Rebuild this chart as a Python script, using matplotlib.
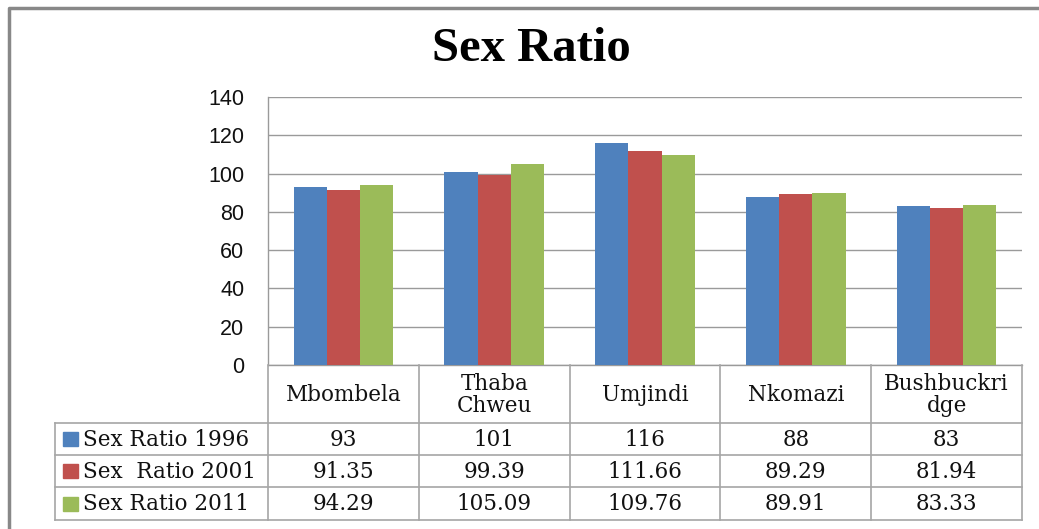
import numpy as np
import matplotlib
matplotlib.use('Agg')
from matplotlib import pyplot as plt
from matplotlib.patches import Rectangle

#%% Data
categories = ['Mbombela', 'Thaba\nChweu', 'Umjindi', 'Nkomazi', 'Bushbuckri\ndge']
series_names = ['Sex Ratio 1996', 'Sex  Ratio 2001', 'Sex Ratio 2011']
ratio_1996 = [93, 101, 116, 88, 83]
ratio_2001 = [91.35, 99.39, 111.66, 89.29, 81.94]
ratio_2011 = [94.29, 105.09, 109.76, 89.91, 83.33]
labels_1996 = ['93', '101', '116', '88', '83']
labels_2001 = ['91.35', '99.39', '111.66', '89.29', '81.94']
labels_2011 = ['94.29', '105.09', '109.76', '89.91', '83.33']
colors = ['#4F81BD', '#C0504D', '#9BBB59']

#%% Figure
W, H = 1039, 529
fig = plt.figure(figsize=(W / 100, H / 100), dpi=100)
fig.patch.set_facecolor('white')

# plot area in pixels
px_left, px_right, px_top, px_bottom = 268, 1022, 97, 365
ax = fig.add_axes([px_left / W, 1 - px_bottom / H,
                   (px_right - px_left) / W, (px_bottom - px_top) / H])

x = np.arange(len(categories))
bw = 0.22
for i, vals in enumerate([ratio_1996, ratio_2001, ratio_2011]):
    ax.bar(x + (i - 1) * bw, vals, width=bw, color=colors[i], zorder=3)

ax.set_xlim(-0.5, len(categories) - 0.5)
ax.set_ylim(0, 140)
ax.set_yticks(np.arange(0, 141, 20))
ax.set_xticks([])
ax.yaxis.grid(True, color='#9a9a9a', linewidth=1.0, zorder=0)
for s in ['top', 'right']:
    ax.spines[s].set_visible(False)
for s in ['left', 'bottom']:
    ax.spines[s].set_color('#9a9a9a')
    ax.spines[s].set_linewidth(1.0)
ax.tick_params(axis='y', length=0, pad=17, labelsize=15.5, colors='#111111')
for lab in ax.get_yticklabels():
    lab.set_family('Liberation Sans')

#%% Title
fig.text(531 / W, 1 - 49 / H, 'Sex Ratio', ha='center', va='center',
         fontsize=35, fontweight='bold', family='Liberation Serif')

#%% Table (overlay in pixel coords)
ov = fig.add_axes([0, 0, 1, 1], facecolor='none')
ov.set_xlim(0, W)
ov.set_ylim(H, 0)
ov.axis('off')

lc = '#a6a6a6'
lw = 1.2
col_x = np.linspace(px_left, px_right, len(categories) + 1)
row_y = [365, 423, 455, 487, 520]
tab_left = 55

# frame
ov.plot([8.5, 8.5, W + 5], [H + 5, 7.5, 7.5], color='#888888', lw=2.5)

# horizontal lines
for yy in row_y[1:]:
    ov.plot([tab_left, px_right], [yy, yy], color=lc, lw=lw)
# vertical lines
for xx in col_x:
    ov.plot([xx, xx], [row_y[0], row_y[-1]], color=lc, lw=lw)
ov.plot([tab_left, tab_left], [row_y[1], row_y[-1]], color=lc, lw=lw)

tfont = dict(family='DejaVu Serif', fontsize=15.5, color='#111111')
centers = (col_x[:-1] + col_x[1:]) / 2
for c, name in zip(centers, categories):
    ov.text(c, (row_y[0] + row_y[1]) / 2 + 1, name, ha='center', va='center',
            linespacing=1.0, **tfont)

rows = [labels_1996, labels_2001, labels_2011]
for r, labs in enumerate(rows):
    yc = (row_y[r + 1] + row_y[r + 2]) / 2
    ov.add_patch(Rectangle((63, yc - 7), 15, 14, color=colors[r]))
    ov.text(83, yc + 1, series_names[r], ha='left', va='center', **tfont)
    for c, t in zip(centers, labs):
        ov.text(c, yc + 1, t, ha='center', va='center', **tfont)

fig.savefig('out.png', dpi=100)
